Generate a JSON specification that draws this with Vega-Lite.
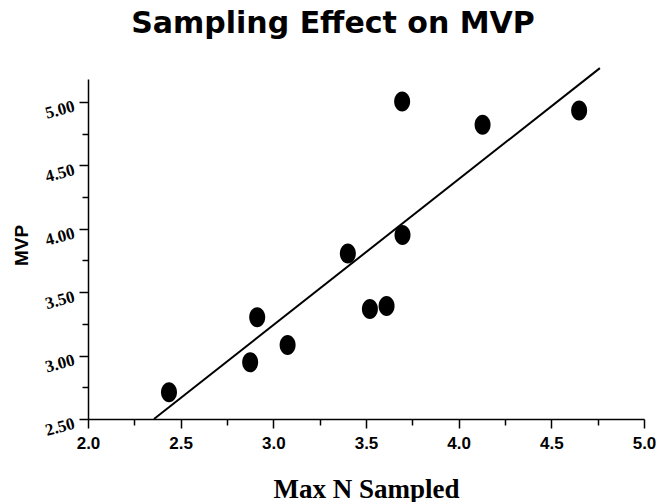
{
  "$schema": "https://vega.github.io/schema/vega-lite/v6.json",
  "width": 556,
  "height": 340,
  "autosize": {"type": "none"},
  "padding": {"left": 88, "top": 79, "right": 24, "bottom": 83},
  "background": "white",
  "title": {
    "text": "Sampling Effect on MVP",
    "font": "DejaVu Sans",
    "fontSize": 30,
    "fontWeight": "bold",
    "color": "black",
    "anchor": "middle",
    "dx": -33,
    "baseline": "alphabetic",
    "offset": 1
  },
  "config": {"view": {"stroke": null}},
  "datasets": {
    "points": [
      {"x": 2.437, "y": 2.71},
      {"x": 2.875, "y": 2.947},
      {"x": 2.913, "y": 3.302},
      {"x": 3.077, "y": 3.084},
      {"x": 3.402, "y": 3.804},
      {"x": 3.521, "y": 3.368},
      {"x": 3.611, "y": 3.391},
      {"x": 3.697, "y": 3.951},
      {"x": 3.695, "y": 5.002},
      {"x": 4.129, "y": 4.819},
      {"x": 4.65, "y": 4.931}
    ],
    "fit": [
      {"x": 2.356, "y": 2.5},
      {"x": 4.762, "y": 5.266}
    ]
  },
  "encoding": {
    "x": {
      "field": "x",
      "type": "quantitative",
      "scale": {"domain": [2, 5], "nice": false, "zero": false},
      "axis": {
        "title": "Max N Sampled",
        "values": [2, 2.25, 2.5, 2.75, 3, 3.25, 3.5, 3.75, 4, 4.25, 4.5, 4.75, 5],
        "labelExpr": "round(datum.value*4)%2===0 ? format(datum.value,'.1f') : ''",
        "labelFont": "Liberation Sans",
        "labelFontSize": 17,
        "labelFontWeight": "bold",
        "labelColor": "black",
        "labelPadding": 7,
        "labelFlush": false,
        "labelOverlap": false,
        "tickSize": {"condition": {"test": "round(datum.value*4)%2===0", "value": 9}, "value": 6},
        "tickColor": "black",
        "tickWidth": 1.5,
        "domainColor": "black",
        "domainWidth": 1.5,
        "grid": false,
        "titleFont": "Liberation Serif",
        "titleFontSize": 27,
        "titleFontWeight": "bold",
        "titleColor": "black",
        "titleBaseline": "alphabetic",
        "titleX": 278,
        "titleY": 78
      }
    },
    "y": {
      "field": "y",
      "type": "quantitative",
      "scale": {"domain": [2.5, 5.18], "nice": false, "zero": false},
      "axis": {
        "title": "MVP",
        "values": [2.5, 2.75, 3, 3.25, 3.5, 3.75, 4, 4.25, 4.5, 4.75, 5],
        "labelExpr": "round(datum.value*4)%2===0 ? format(datum.value,'.2f') : ''",
        "labelFont": "Liberation Serif",
        "labelFontSize": 17,
        "labelFontWeight": "bold",
        "labelColor": "black",
        "labelAngle": -15,
        "labelAlign": "right",
        "labelBaseline": "middle",
        "labelPadding": 5,
        "labelOffset": 4,
        "labelFlush": false,
        "labelOverlap": false,
        "tickSize": {"condition": {"test": "round(datum.value*4)%2===0", "value": 9}, "value": 6},
        "tickColor": "black",
        "tickWidth": 1.5,
        "domainColor": "black",
        "domainWidth": 1.5,
        "grid": false,
        "titleFont": "Liberation Sans",
        "titleFontSize": 19,
        "titleFontWeight": "bold",
        "titleColor": "black",
        "titleBaseline": "alphabetic",
        "titleX": -61,
        "titleY": 166
      }
    }
  },
  "layer": [
    {
      "data": {"name": "fit"},
      "mark": {"type": "line", "color": "black", "strokeWidth": 2, "clip": false}
    },
    {
      "data": {"name": "points"},
      "mark": {
        "type": "point",
        "shape": "M -0.8 0 A 0.8 1 0 1 1 0.8 0 A 0.8 1 0 1 1 -0.8 0 Z",
        "filled": true,
        "color": "black",
        "opacity": 1,
        "size": 400
      }
    }
  ]
}
